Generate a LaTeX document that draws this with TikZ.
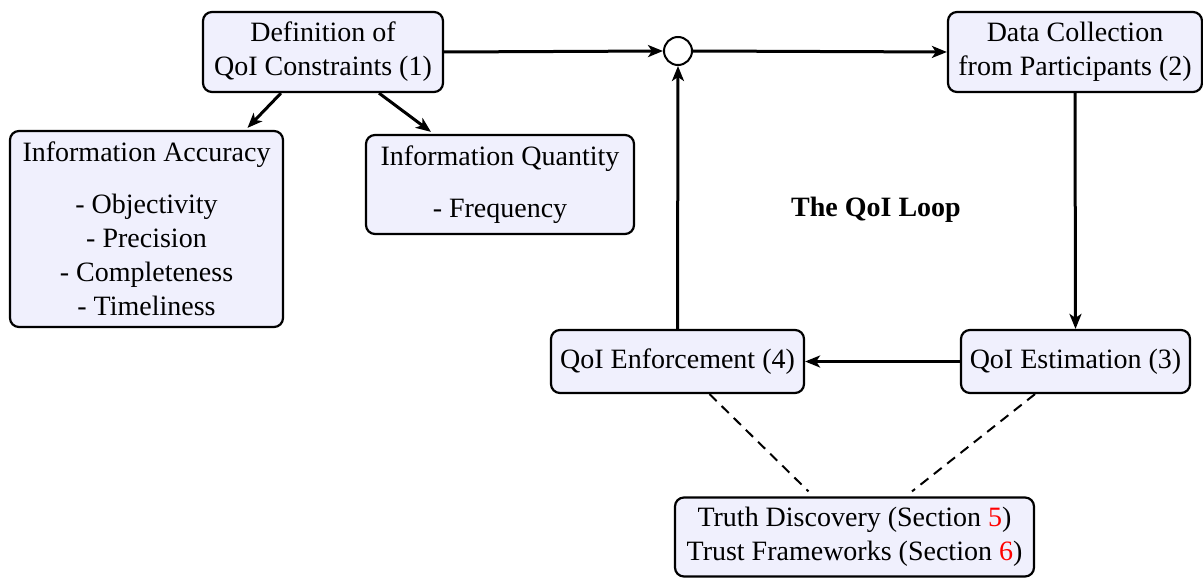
\documentclass[tikz,border=0pt]{standalone}
\usepackage{fontspec}
\setmainfont{Liberation Serif}
\usetikzlibrary{arrows.meta,calc}
\definecolor{boxfill}{RGB}{240,240,253}
\newcommand\boxfont{\fontsize{28}{34}\selectfont}
\begin{document}
\begin{tikzpicture}[x=1pt,y=-1pt,
  box/.style={draw, line width=2.2pt, rounded corners=9pt, fill=boxfill, align=center, inner sep=0pt, font=\boxfont},
  arr/.style={line width=3pt, -{Stealth[length=15pt,width=12pt,inset=4pt]}},
  dashline/.style={line width=2pt, dash pattern=on 10pt off 7pt}]
\useasboundingbox (0,0) rectangle (1203,578);
\node[box, minimum width=240, minimum height=80] (def) at (323,52) {Definition of\\QoI Constraints (1)};
\node[box, minimum width=273, minimum height=196] (acc) at (146.5,229) {Information Accuracy\\[18pt]- Objectivity\\- Precision\\- Completeness\\- Timeliness};
\node[box, minimum width=268, minimum height=99] (qty) at (500,184.5) {Information Quantity\\[18pt]- Frequency};
\node[draw, circle, line width=2pt, minimum size=28pt, inner sep=0pt, fill=white] (c) at (678,51) {};
\node[box, minimum width=254, minimum height=80] (data) at (1075,52) {Data Collection\\from Participants (2)};
\node[box, minimum width=229, minimum height=63] (est) at (1075.5,361.5) {QoI Estimation (3)};
\node[box, minimum width=253, minimum height=63] (enf) at (677.5,361.5) {QoI Enforcement (4)};
\node[box, minimum width=359, minimum height=79] (truth) at (854.5,537) {Truth Discovery (Section \textcolor{red}{5})\\Trust Frameworks (Section \textcolor{red}{6})};
\node[font=\boxfont\bfseries] (loop) at (876,210) {The QoI Loop};
\draw[arr] (def.east) -- (c.west);
\draw[arr] (c.east) -- (data.west);
\draw[arr] (data.south) -- (est.north);
\draw[arr] (est.west) -- (enf.east);
\draw[arr] (enf.north) -- (c.south);
\draw[arr] ($(def.south)+(-42,0)$) -- ($(acc.north)+(101,-2)$);
\draw[arr] ($(def.south)+(56,0)$) -- ($(qty.north)+(-69,-2)$);
\draw[dashline] ($(enf.south)+(32,0)$) -- ($(truth.north)+(-46,-5)$);
\draw[dashline] ($(est.south)+(-40.5,0)$) -- ($(truth.north)+(57.5,-5)$);
\end{tikzpicture}
\end{document}
